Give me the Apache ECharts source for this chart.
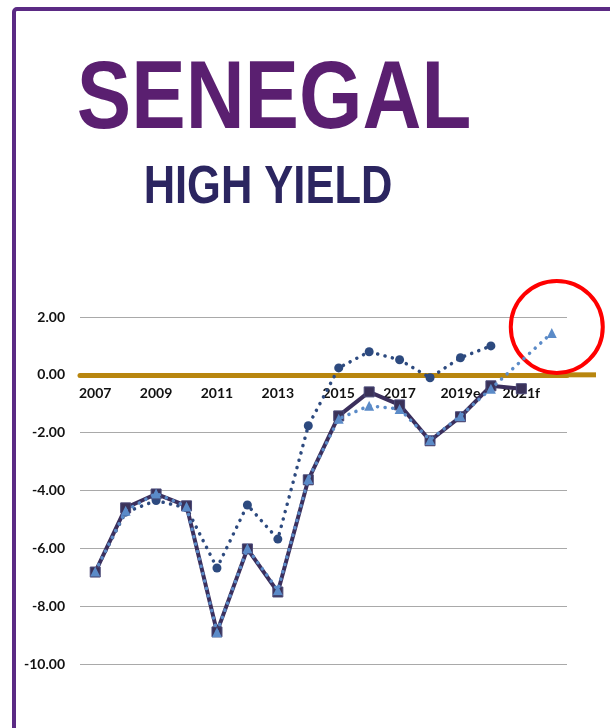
<!DOCTYPE html>
<html>
<head>
<meta charset="utf-8">
<style>
  html, body { margin: 0; padding: 0; background: #fff; }
  #chart { width: 610px; height: 728px; }
</style>
<script src="https://cdn.jsdelivr.net/npm/echarts@6/dist/echarts.min.js"></script>
</head>
<body>
<div id="chart"></div>
<script>
// Years on the category axis (estimates "e", forecasts "f")
var years = ['2007', '2008', '2009', '2010', '2011', '2012', '2013', '2014',
             '2015', '2016', '2017', '2018', '2019e', '2020f', '2021f', '2022f'];

// Solid line with square markers
var squareSeries = [-6.82, -4.60, -4.12, -4.53, -8.89, -6.02, -7.51, -3.63,
                    -1.42, -0.59, -1.04, -2.28, -1.45, -0.38, -0.48, null];

// Dotted line with triangle markers
var triangleSeries = [-6.80, -4.70, -4.10, -4.55, -8.90, -6.00, -7.45, -3.60,
                      -1.52, -1.07, -1.18, -2.25, -1.42, -0.48, null, 1.45];

// Dotted line with circle markers
var circleSeries = [-6.80, -4.75, -4.35, -4.60, -6.68, -4.50, -5.68, -1.76,
                    0.24, 0.80, 0.52, -0.10, 0.59, 1.00, null, null];

// Value axis ticks
var yTicks = { min: -10, max: 2, step: 2 };

var chart = echarts.init(document.getElementById('chart'));

var labelFont = { fontFamily: 'Lato', fontWeight: 'bold', fontSize: 14, color: '#111' };
var dots = [0.1, 7.5];

var option = {
  animation: false,
  backgroundColor: '#fff',
  grid: { left: 80, right: 43, top: 317, bottom: 64, containLabel: false },
  xAxis: {
    type: 'category',
    data: years,
    boundaryGap: true,
    position: 'bottom',
    offset: 0,
    axisLine: { show: true, onZero: false, lineStyle: { color: '#b8860f', width: 5 } },
    axisTick: { show: false },
    axisLabel: Object.assign({ interval: 1, margin: 12 }, labelFont),
    splitLine: { show: false }
  },
  yAxis: {
    type: 'value',
    min: yTicks.min,
    max: yTicks.max,
    interval: yTicks.step,
    axisLine: { show: false },
    axisTick: { show: false },
    axisLabel: Object.assign({ margin: 15, formatter: function (v) { return v.toFixed(2); } }, labelFont),
    splitLine: { lineStyle: { color: '#a9a9a9', width: 1 } }
  },
  series: [
    {
      name: 'circle',
      type: 'line',
      data: circleSeries,
      symbol: 'circle',
      symbolSize: 9,
      z: 3,
      itemStyle: { color: '#2d4a7f' },
      lineStyle: { color: '#2d4a7f', width: 3.5, type: dots, cap: 'round' }
    },
    {
      name: 'square',
      type: 'line',
      data: squareSeries,
      symbol: 'rect',
      symbolSize: 10,
      z: 4,
      itemStyle: { color: '#3a3259', borderColor: '#4b4a78', borderWidth: 1 },
      lineStyle: { color: '#3b2f5c', width: 4 }
    },
    {
      name: 'triangle',
      type: 'line',
      data: triangleSeries,
      connectNulls: true,
      symbol: 'triangle',
      symbolSize: 10,
      z: 5,
      itemStyle: { color: '#5b8bc8' },
      lineStyle: { color: '#5b8bc8', width: 3.5, type: dots, cap: 'round' },
      markPoint: {
        symbol: 'circle',
        symbolSize: 92,
        symbolOffset: [5, -6],
        silent: true,
        label: { show: false },
        itemStyle: { color: 'rgba(0,0,0,0)', borderColor: '#ff0000', borderWidth: 4 },
        data: [{ coord: ['2022f', 1.45] }]
      }
    }
  ]
};

chart.setOption(option);

// Lift the category axis (line and labels) up to the zero level
var zeroY = chart.convertToPixel({ yAxisIndex: 0 }, 0);
var bottomY = chart.convertToPixel({ yAxisIndex: 0 }, yTicks.min);
var gridRight = 610 - 43;

chart.setOption({
  xAxis: { offset: -(bottomY - zeroY) },
  graphic: [
    {
      type: 'rect',
      shape: { x: 14, y: 9, width: 720, height: 820, r: 3 },
      style: { fill: 'none', stroke: '#5b2a84', lineWidth: 4 },
      silent: true
    },
    {
      // gold zero line continues a little beyond the plot area
      type: 'line',
      shape: { x1: gridRight - 2, y1: zeroY, x2: 596, y2: zeroY },
      style: { stroke: '#b8860f', lineWidth: 5 },
      z: 1,
      silent: true
    },
    {
      type: 'text',
      x: 274,
      y: 102,
      scaleX: 0.85,
      style: {
        text: 'SENEGAL',
        x: 0, y: 0,
        align: 'center',
        verticalAlign: 'middle',
        font: 'bold 96px "Liberation Sans", Arial, sans-serif',
        fill: '#5a1f70'
      },
      silent: true
    },
    {
      type: 'text',
      x: 268,
      y: 188,
      scaleX: 0.82,
      style: {
        text: 'HIGH YIELD',
        x: 0, y: 0,
        align: 'center',
        verticalAlign: 'middle',
        font: 'bold 53px "Liberation Sans", Arial, sans-serif',
        fill: '#2b2560'
      },
      silent: true
    }
  ]
});
</script>
</body>
</html>
